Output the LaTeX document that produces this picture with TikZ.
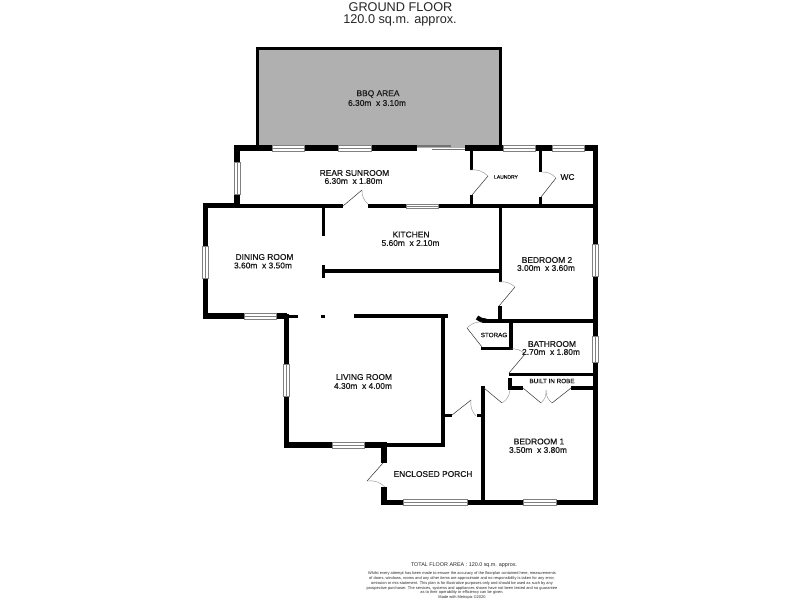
\documentclass[tikz,border=0pt]{standalone}
\usepackage{fontspec}
\setmainfont{Liberation Sans}
\newfontfamily\labelfont[FakeBold=0.6]{Liberation Sans}
\begin{document}
\begin{tikzpicture}[x=1pt, y=-1pt]
        % ================= styles =================
        \tikzset{
            % walls
            wallfat/.style={line width=5.5pt, black},
            wallmid/.style={line width=4pt, black},
            wallthin/.style={line width=3pt, black},
            % door leaf and swing
            leaf/.style={line width=0.5pt, black!80},
            swing/.style={line width=0.4pt, black!45},
            % window
            glass/.style={draw=black!50, line width=0.5pt, fill=white},
            pane/.style={black!50, line width=0.5pt},
            % labels
            roomlabel/.style={font=\labelfont\fontsize{8.4}{8}\selectfont, text=black!90, inner sep=0pt},
            smalllabel/.style={font=\labelfont\fontsize{6.3}{6}\selectfont, text=black!90, inner sep=0pt},
            tinylabel/.style={font=\labelfont\fontsize{5}{5}\selectfont, text=black!90, inner sep=0pt},
            titlelabel/.style={font=\fontsize{12.7}{13}\selectfont, text=black!85, inner sep=0pt},
            totallabel/.style={font=\fontsize{5.4}{6}\selectfont, text=black!85, inner sep=0pt},
            footlabel/.style={font=\fontsize{3.95}{4.85}\selectfont, text=black!85, inner sep=0pt, align=center}
        }
        \useasboundingbox (0,0) rectangle (800,600);
        \fill[white] (0,0) rectangle (800,600);

        % ================= BBQ area =================
        \draw[fill=black!31, line width=3pt] (257.5,148) -- (257.5,48.5) -- (500.5,48.5) -- (500.5,148);

        % ================= outer walls =================
        % rear wall, left part
        \draw[wallfat] (237,204) -- (237,148) -- (417,148);
        % rear wall, right part and right side
        \draw[wallfat] (465,148) -- (595.5,148) -- (595.5,505);
        % dining room
        \draw[wallfat] (240,205.5) -- (205.5,205.5) -- (205.5,316) -- (287,316);
        % living room
        \draw[wallfat] (286.5,314) -- (286.5,445) -- (387,445);
        \draw[wallmid] (384,445) -- (445,445);
        % porch front
        \draw[wallfat] (384,463) -- (384,445);
        \draw[wallfat] (384,487) -- (384,502.5) -- (598,502.5);

        % ================= inner walls =================
        \draw[wallmid] (203,206) -- (343,206);
        \draw[wallmid] (368,206) -- (598,206);
        \draw[wallthin] (287,316.5) -- (298,316.5);
        \draw[wallthin] (321,316.5) -- (325,316.5);
        \draw[wallmid] (354,316) -- (448,316);
        % kitchen
        \draw[wallthin] (323.5,206) -- (323.5,236);
        \draw[wallthin] (323.5,265) -- (323.5,278);
        \draw[wallmid] (323.5,271) -- (501,271);
        % laundry and wc
        \draw[wallthin] (471.5,150) -- (471.5,170);
        \draw[wallthin] (471.5,195) -- (471.5,205);
        \draw[wallthin] (540.5,150) -- (540.5,172);
        \draw[wallthin] (540.5,197) -- (540.5,205);
        % bedroom 2
        \draw[wallthin] (500,206) -- (500,282);
        \draw[wallmid] (500,306) -- (500,320);
        \draw[wallmid] (482,320.7) -- (598,320.7);
        \draw[line width=4.5pt, black] (477,317.5) to[bend right=20] (486,320.7);
        % storage
        \draw[wallmid] (511,320) -- (511,350);
        \draw[wallthin] (481,348.5) -- (513,348.5);
        % bathroom and robe
        \draw[wallthin] (509,374.5) -- (598,374.5);
        \draw[wallmid] (510,378) -- (510,387.5) -- (523,387.5);
        \draw[wallmid] (571,387.5) -- (598,387.5);
        % living room right side and bedroom 1
        \draw[wallmid] (443,316) -- (443,447);
        \draw[wallthin] (443,415) -- (452,415);
        \draw[wallthin] (477,415) -- (484,415);
        \draw[wallmid] (482.5,386) -- (482.5,503);

        % ================= sliding door =================
        \draw[black!55, line width=1.2pt] (417,146) -- (451,146);
        \draw[black!55, line width=0.6pt] (432,149.5) -- (465,149.5);

        % ================= doors =================
        \foreach \xh/\yh/\xt/\yt/\xe/\ye/\bend in {
            343/206/362/190/368/204/-25,
            472/195/488/176/470/170/-25,
            541/197/556/178/541/172/-25,
            499/306/515/287/499/282/-25,
            482/347/467/328/483/322/25,
            509/373/525/354/510/349/-25,
            484/388/502/403/510/390/-25,
            452/415/471/400/476/416/-25,
            383/463/367/481/385/487/25,
            523/388/541/403/546/390/-25,
            571/388/552/403/546/390/25} {
            \draw[leaf] (\xh,\yh) -- (\xt,\yt);
            \draw[swing] (\xt,\yt) to[bend left=\bend] (\xe,\ye);
        }

        % ================= windows =================
        % across horizontal walls
        \foreach \xa/\xb/\yc/\th in {
            272/304/148/2.8, 338/371/148/2.8, 503/535/148/2.8, 552/584/148/2.8,
            406/438/206/1.8, 244/276/316/2.8, 332/364/445/2.8, 403/467/502.5/2.8, 523/556/502.5/2.8} {
            \draw[glass] (\xa,\yc-\th) rectangle (\xb,\yc+\th);
            \draw[pane] (\xa,\yc) -- (\xb,\yc);
        }
        % across vertical walls
        \foreach \ya/\yb/\xc in {
            162/194/237, 246/278/205.5, 244/276/595.5, 364/396/286.5, 336/362/595.5} {
            \draw[glass] (\xc-2.8,\ya) rectangle (\xc+2.8,\yb);
            \draw[pane] (\xc,\ya) -- (\xc,\yb);
        }

        % ================= labels =================
        \node[titlelabel] (title) at (400.5,7) {GROUND FLOOR};
        \node[titlelabel] (area) at (400,20) {120.0 sq.m. approx.};

        \node[roomlabel] (bbq) at (378,94) {BBQ AREA};
        \node[roomlabel] (bbqsize) at (377,103) {6.30m\ \ x 3.10m};
        \node[roomlabel] (sunroom) at (354.5,173) {REAR SUNROOM};
        \node[roomlabel] (sunroomsize) at (353.5,181) {6.30m\ \ x 1.80m};
        \node[tinylabel] (laundry) at (506,177) {LAUNDRY};
        \node[roomlabel] (wc) at (567.5,177) {WC};
        \node[roomlabel] (kitchen) at (411,234.5) {KITCHEN};
        \node[roomlabel] (kitchensize) at (410.5,243) {5.60m\ \ x 2.10m};
        \node[roomlabel] (dining) at (264.5,257) {DINING ROOM};
        \node[roomlabel] (diningsize) at (263,265.5) {3.60m\ \ x 3.50m};
        \node[roomlabel] (bed2) at (547,260) {BEDROOM 2};
        \node[roomlabel] (bed2size) at (546,268) {3.00m\ \ x 3.60m};
        \node[smalllabel] (storage) at (494,335) {STORAG};
        \node[roomlabel] (bath) at (552,344) {BATHROOM};
        \node[roomlabel] (bathsize) at (551,352) {2.70m\ \ x 1.80m};
        \node[smalllabel] (robe) at (552,381) {BUILT IN ROBE};
        \node[roomlabel] (living) at (364,377) {LIVING ROOM};
        \node[roomlabel] (livingsize) at (363,386) {4.30m\ \ x 4.00m};
        \node[roomlabel] (bed1) at (539,441.5) {BEDROOM 1};
        \node[roomlabel] (bed1size) at (538,450) {3.50m\ \ x 3.80m};
        \node[roomlabel] (porch) at (433,474) {ENCLOSED PORCH};

        % ================= footer =================
        \node[totallabel] (total) at (464,565.5) {TOTAL FLOOR AREA : 120.0 sq.m. approx.};
        \node[footlabel, anchor=north] (notice) at (462,571.5) {Whilst every attempt has been made to ensure the accuracy of the floorplan contained here, measurements\\
            of doors, windows, rooms and any other items are approximate and no responsibility is taken for any error,\\
            omission or mis-statement. This plan is for illustrative purposes only and should be used as such by any\\
            prospective purchaser. The services, systems and appliances shown have not been tested and no guarantee\\
            as to their operability or efficiency can be given.\\
            Made with Metropix ©2020};

    \end{tikzpicture}
\end{document}
